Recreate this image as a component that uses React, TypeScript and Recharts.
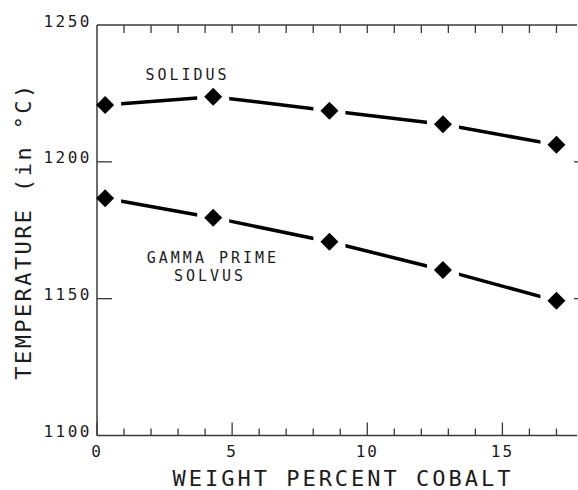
import React from 'react';
import { LineChart, Line, XAxis, YAxis, ReferenceDot } from 'recharts';

// values
const cobalt = [0.3, 4.3, 8.6, 12.8, 17.0];
const solidus = [1220.8, 1223.8, 1218.7, 1213.7, 1206.2];
const gammaPrime = [1186.7, 1179.6, 1170.8, 1160.5, 1149.2];

const xTicks = [0, 1, 2, 3, 4, 5, 6, 7, 8, 9, 10, 11, 12, 13, 14, 15, 16, 17];
const xMajor = [0, 5, 10, 15];
const yTicks = [1100, 1150, 1200, 1250];
const yInner = [1150, 1200];

const annotations = [
  { x: 3.35, y: 1231.7, text: 'SOLIDUS' },
  { x: 4.29, y: 1164.9, text: 'GAMMA PRIME' },
  { x: 4.18, y: 1158.3, text: 'SOLVUS' },
];

const data = cobalt.map((c, i) => ({ cobalt: c, solidus: solidus[i], gamma: gammaPrime[i] }));

const W = 578;
const H = 490;
const LEFT = 97;
const TOP = 25;
const BOTTOM = 435.5;
const FONT = '"DejaVu Sans Mono", "Liberation Mono", monospace';
const INK = '#1c1c1c';
const AXIS = '#3a3a3a';

// black diamond drawn as the point label, with a white gap cut into the line on both sides
const DiamondLabel = (props: any) => {
  const vb = props.viewBox || {};
  const cx = vb.x != null ? vb.x + (vb.width || 0) / 2 : props.x;
  const cy = vb.y != null ? vb.y + (vb.height || 0) / 2 : props.y;
  if (cx == null || cy == null) return null;
  const first = props.index === 0 || cx < LEFT + 20;
  const s = 9;
  return (
    <g>
      <rect x={first ? cx : cx - 16} y={cy - 7} width={first ? 16 : 32} height={14} fill="#fff" />
      <polygon points={`${cx},${cy - s} ${cx + s},${cy} ${cx},${cy + s} ${cx - s},${cy}`} fill="#000" />
    </g>
  );
};

const BottomTick = (props: any) => {
  const { x, payload } = props;
  const major = xMajor.includes(payload.value);
  return (
    <g>
      <line x1={x} x2={x} y1={BOTTOM} y2={BOTTOM - (major ? 13 : 7)} stroke={AXIS} strokeWidth={1.3} />
      {major && (
        <text x={x} y={BOTTOM + 16} textAnchor="middle" dominantBaseline="central" fontFamily={FONT}
          fontSize={16} letterSpacing={2} fill={INK}>
          {payload.value}
        </text>
      )}
    </g>
  );
};

const TopTick = (props: any) => {
  const { x } = props;
  return <line x1={x} x2={x} y1={TOP} y2={TOP + 8} stroke={AXIS} strokeWidth={1.3} />;
};

const LeftTick = (props: any) => {
  const { y, payload } = props;
  return (
    <g>
      {yInner.includes(payload.value) && (
        <line x1={LEFT} x2={LEFT + 15} y1={y} y2={y} stroke={AXIS} strokeWidth={1.3} />
      )}
      <text x={LEFT - 5} y={y - 4} textAnchor="end" dominantBaseline="central" fontFamily={FONT}
        fontSize={16} letterSpacing={2.5} fill={INK}>
        {payload.value}
      </text>
    </g>
  );
};

const RightTick = (props: any) => {
  const { y } = props;
  return <line x1={W} x2={W - 4} y1={y} y2={y} stroke={AXIS} strokeWidth={1.3} />;
};

const AnnotationLabel = (text: string) => (p: any) => (
  <text x={p.viewBox.x} y={p.viewBox.y} textAnchor="middle" dominantBaseline="central" fontFamily={FONT}
    fontSize={15} letterSpacing={3} fill={INK}>
    {text}
  </text>
);

const XTitle = (p: any) => (
  <text x={p.viewBox.x + p.viewBox.width / 2 + 6} y={478} textAnchor="middle" dominantBaseline="central"
    fontFamily={FONT} fontSize={22} letterSpacing={3} fill={INK}>
    WEIGHT PERCENT COBALT
  </text>
);

const YTitle = () => (
  <text x={23} y={231} transform="rotate(-90, 23, 231)" textAnchor="middle" dominantBaseline="central"
    fontFamily={FONT} fontSize={22} letterSpacing={2.4} fill={INK}>
    TEMPERATURE (in °C)
  </text>
);

export default function App() {
  return (
    <div style={{ position: 'absolute', left: 0, top: 0, width: W, height: H, background: '#fff' }}>
      <LineChart width={W} height={H} data={data} margin={{ top: TOP - 1, right: 0, bottom: 0, left: 0 }}>
        <XAxis xAxisId="x" type="number" dataKey="cobalt" domain={[0, 17.76]} ticks={xTicks}
          interval={0} height={H - BOTTOM} axisLine={{ stroke: AXIS, strokeWidth: 1.5 }} tickLine={false}
          tick={BottomTick} label={{ content: XTitle }} />
        <XAxis xAxisId="top" orientation="top" type="number" dataKey="cobalt" domain={[0, 17.76]}
          ticks={xTicks.slice(1)} interval={0} height={1} axisLine={{ stroke: AXIS, strokeWidth: 1.5 }}
          tickLine={false} tick={TopTick} />
        <YAxis yAxisId="t" type="number" domain={[1100, 1250]} ticks={yTicks} interval={0} width={LEFT}
          axisLine={{ stroke: AXIS, strokeWidth: 1.5 }} tickLine={false} tick={LeftTick}
          label={{ content: YTitle }} />
        <YAxis yAxisId="r" orientation="right" type="number" domain={[1100, 1250]} ticks={yInner}
          interval={0} width={1} axisLine={false} tickLine={false} tick={RightTick} />
        <Line xAxisId="top" yAxisId="r" type="linear" dataKey="solidus" stroke="#000" strokeWidth={3.5}
          dot={false} activeDot={false} label={DiamondLabel} isAnimationActive={false} />
        <Line xAxisId="x" yAxisId="t" type="linear" dataKey="gamma" stroke="#000" strokeWidth={3.5}
          dot={false} activeDot={false} label={DiamondLabel} isAnimationActive={false} />
        {annotations.map((a) => (
          <ReferenceDot key={a.text} xAxisId="x" yAxisId="t" x={a.x} y={a.y} r={0} fill="none" stroke="none"
            label={{ content: AnnotationLabel(a.text) }} />
        ))}
      </LineChart>
    </div>
  );
}
